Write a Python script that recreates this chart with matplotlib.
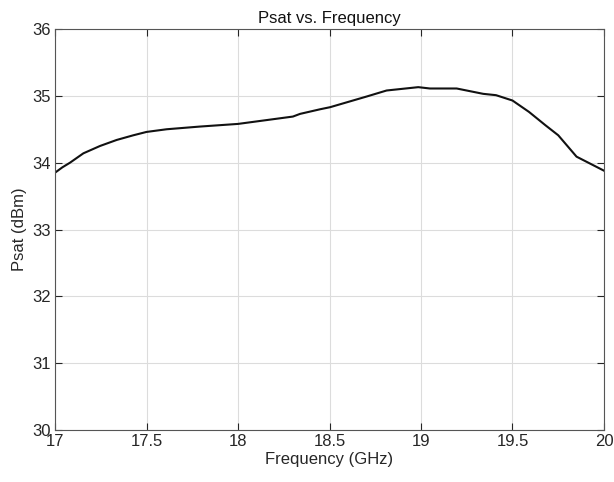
import matplotlib
matplotlib.use('Agg')
import matplotlib.pyplot as plt

# values
freq = [17.0, 17.04, 17.082, 17.155, 17.246, 17.337, 17.428, 17.5, 17.61, 17.79,
        18.0, 18.30, 18.339, 18.45, 18.503, 18.703, 18.812, 18.985, 19.049,
        19.195, 19.34, 19.41, 19.50, 19.59, 19.68, 19.75, 19.85, 20.0]
psat = [33.85, 33.93, 34.00, 34.14, 34.25, 34.34, 34.41, 34.46, 34.50, 34.54,
        34.58, 34.69, 34.73, 34.80, 34.83, 34.99, 35.08, 35.13, 35.11,
        35.11, 35.03, 35.01, 34.93, 34.76, 34.56, 34.41, 34.09, 33.88]

xticks = [17, 17.5, 18, 18.5, 19, 19.5, 20]
xticklabels = ['17', '17.5', '18', '18.5', '19', '19.5', '20']
yticks = [30, 31, 32, 33, 34, 35, 36]

plt.rcParams['font.family'] = ['Liberation Sans', 'DejaVu Sans']
axcol = '#262626'

fig = plt.figure(figsize=(6.14, 4.82), dpi=100)
ax = fig.add_axes([0.0896, 0.1079, 0.8941, 0.8319])

ax.plot(freq, psat, color='#111111', lw=1.5)

ax.set_xlim(17, 20)
ax.set_ylim(30, 36)
ax.set_xticks(xticks)
ax.set_xticklabels(xticklabels)
ax.set_yticks(yticks)
ax.grid(True, color='#dcdcdc', lw=0.8)
ax.tick_params(direction='in', top=True, right=True, labelsize=12,
               colors=axcol, length=5, width=0.8, pad=3)
for s in ax.spines.values():
    s.set_color('#555555')
    s.set_linewidth(0.8)

ax.set_xlabel('Frequency (GHz)', fontsize=12, color=axcol, labelpad=2)
ax.set_ylabel('Psat (dBm)', fontsize=12, color=axcol, labelpad=4)
ax.set_title('Psat vs. Frequency', fontsize=12, color='#111111', pad=4)

fig.savefig('out.png', dpi=100)
